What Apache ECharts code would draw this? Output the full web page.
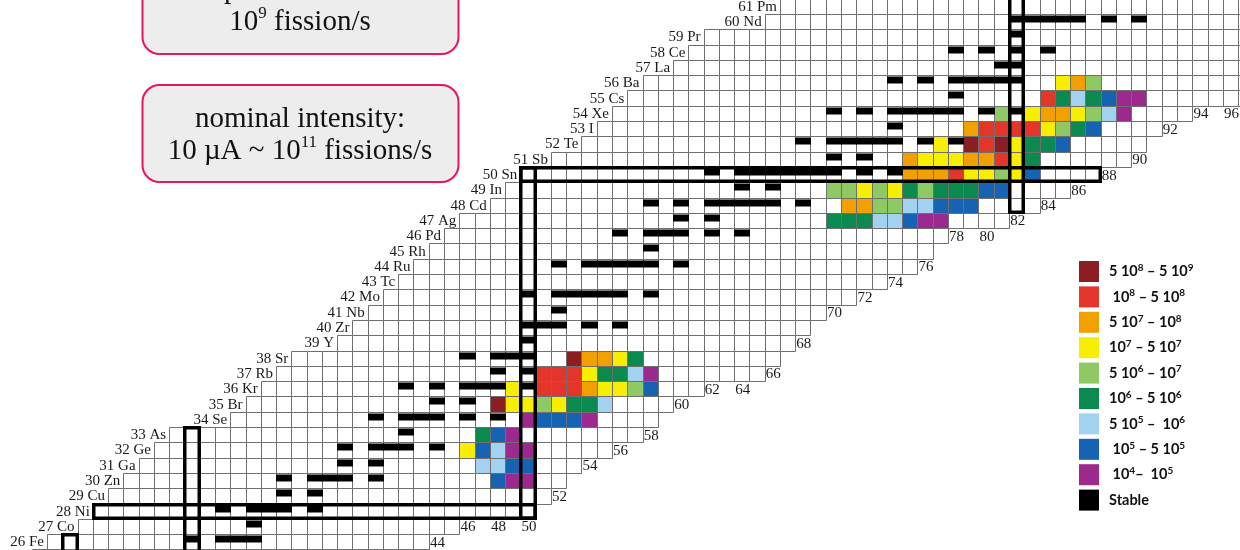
<!DOCTYPE html>
<html>
<head>
<meta charset="utf-8">
<title>Fission fragment rates on the chart of nuclides</title>
<script src="https://cdn.jsdelivr.net/npm/echarts@6/dist/echarts.min.js"></script>
<style>
  html, body { margin: 0; padding: 0; background: #ffffff; }
  #chart { width: 1240px; height: 550px; }
</style>
</head>
<body>
<div id="chart"></div>
<script>
// ---------------------------------------------------------------------------
// Chart of nuclides, Z = 24 ... 62: one row per element, one cell per neutron number
// ---------------------------------------------------------------------------
const Z_VALUES = [24, 25, 26, 27, 28, 29, 30, 31, 32, 33, 34, 35, 36, 37, 38, 39, 40, 41, 42,
                  43, 44, 45, 46, 47, 48, 49, 50, 51, 52, 53, 54, 55, 56, 57, 58, 59, 60, 61, 62];
const ELEMENT_SYMBOLS = ['Cr', 'Mn', 'Fe', 'Co', 'Ni', 'Cu', 'Zn', 'Ga', 'Ge', 'As', 'Se', 'Br', 'Kr',
                         'Rb', 'Sr', 'Y', 'Zr', 'Nb', 'Mo', 'Tc', 'Ru', 'Rh', 'Pd', 'Ag', 'Cd', 'In',
                         'Sn', 'Sb', 'Te', 'I', 'Xe', 'Cs', 'Ba', 'La', 'Ce', 'Pr', 'Nd', 'Pm', 'Sm'];
// lightest and heaviest neutron number drawn in each row
const N_FIRST = [17, 18, 19, 21, 22, 23, 24, 25, 26, 27, 31, 32, 33, 34, 35, 38, 39, 40, 41,
                 42, 43, 44, 45, 46, 48, 49, 50, 52, 54, 55, 56, 57, 58, 60, 61, 62, 66, 67, 68];
const N_LAST  = [41, 42, 43, 45, 50, 51, 52, 53, 55, 57, 58, 59, 61, 65, 66, 67, 68, 69, 71,
                 73, 75, 76, 77, 81, 83, 85, 87, 89, 90, 91, 93, 98, 98, 98, 98, 98, 98, 98, 98];
// stable isotopes, given by neutron number, row by row
const STABLE_N = [
  [26, 28, 29, 30],                       // Cr
  [30],                                   // Mn
  [28, 30, 31, 32],                       // Fe
  [32],                                   // Co
  [30, 32, 33, 34, 36],                   // Ni
  [34, 36],                               // Cu
  [34, 36, 37, 38, 40],                   // Zn
  [38, 40],                               // Ga
  [38, 40, 41, 42, 44],                   // Ge
  [42],                                   // As
  [40, 42, 43, 44, 46, 48],               // Se
  [44, 46],                               // Br
  [42, 44, 46, 47, 48, 50],               // Kr
  [48, 50],                               // Rb
  [46, 48, 49, 50],                       // Sr
  [50],                                   // Y
  [50, 51, 52, 54, 56],                   // Zr
  [52],                                   // Nb
  [50, 52, 53, 54, 55, 56, 58],           // Mo
  [],                                     // Tc
  [52, 54, 55, 56, 57, 58, 60],           // Ru
  [58],                                   // Rh
  [56, 58, 59, 60, 62, 64],               // Pd
  [60, 62],                               // Ag
  [58, 60, 62, 63, 64, 65, 66, 68],       // Cd
  [64, 66],                               // In
  [62, 64, 65, 66, 67, 68, 69, 70, 72, 74],// Sn
  [70, 72],                               // Sb
  [68, 70, 71, 72, 73, 74, 76, 78],       // Te
  [74],                                   // I
  [70, 72, 74, 75, 76, 77, 78, 80, 82],   // Xe
  [78],                                   // Cs
  [74, 76, 78, 79, 80, 81, 82],           // Ba
  [81, 82],                               // La
  [78, 80, 82, 84],                       // Ce
  [82],                                   // Pr
  [82, 83, 84, 85, 86, 88, 90],           // Nd
  [],                                     // Pm
  [82, 85, 86, 87, 88, 90, 92]            // Sm
];

// Fission-fragment rate class per cell: [Z, first N, classes...]
// class 1 = 5e8-5e9 ... 9 = 1e4-1e5 (see LEGEND_LABELS), 0 = no rate shown
const YIELD_ROWS = [
  [30, 48, [8, 9, 9]],
  [31, 47, [7, 7, 8, 8]],
  [32, 46, [4, 8, 7, 9, 9]],
  [33, 47, [6, 8, 9]],
  [34, 50, [9, 8, 8, 8, 9]],
  [35, 48, [1, 4, 4, 5, 4, 6, 6, 7]],
  [36, 49, [4, 0, 2, 2, 2, 3, 4, 4, 5, 8]],
  [37, 51, [2, 2, 2, 4, 6, 6, 7, 9]],
  [38, 53, [1, 3, 3, 4, 6]],
  [47, 70, [6, 6, 6, 7, 7, 8, 9, 9]],
  [48, 71, [3, 3, 5, 5, 7, 7, 8, 8, 8]],
  [49, 70, [5, 5, 4, 5, 4, 6, 5, 6, 6, 6, 8, 8]],
  [50, 75, [3, 3, 3, 2, 4, 4, 5, 4, 8]],
  [51, 75, [3, 4, 4, 4, 3, 3, 2, 4, 6]],
  [52, 77, [4, 0, 1, 2, 1, 4, 6, 6, 8]],
  [53, 79, [3, 2, 2, 2, 2, 4, 5, 6, 8]],
  [54, 81, [5, 0, 4, 3, 3, 4, 5, 7, 9]],
  [55, 84, [2, 6, 7, 6, 8, 9, 9]],
  [56, 85, [4, 3, 5]]
];
const LEGEND_LABELS = ['5 10^8 \u2013 5 10^9', ' 10^8 \u2013 5 10^8', '5 10^7 \u2013 10^8',
                       '10^7 \u2013 5 10^7', '5 10^6 \u2013 10^7', '10^6 \u2013 5 10^6',
                       '5 10^5 \u2013  10^6', ' 10^5 \u2013 5 10^5', ' 10^4\u2013  10^5'];
const STABLE_LABEL = 'Stable';

// neutron numbers written under the bottom of their column
const N_TICKS = [44, 46, 48, 50, 52, 54, 56, 58, 60, 62, 64, 66, 68, 70, 72, 74, 76, 78, 80,
                 82, 84, 86, 88, 90, 92, 94, 96];
// closed shells outlined with a heavy frame
const MAGIC_N = [20, 28, 50, 82];
const MAGIC_Z = [28, 50];

// ---------------------------------------------------------------------------
// Styling and scale set-up
// ---------------------------------------------------------------------------
const CLASS_COLORS = ['#8c1d23', '#e3352a', '#f1a000', '#f8ee00', '#8fc963',
                      '#0b8a50', '#a3d2f1', '#1763b3', '#9c2a8e'];
const GRID_LINE = '#6f6f6f';
const SERIF = '"Liberation Serif", "Times New Roman", serif';

const W = 1240, H = 550;
const CELL_W = 15.27, CELL_H = 15.3;   // pixel size of one nuclide cell
const N50_X = 528, Z28_Y = 511.2;      // where the N = 50 column and Z = 28 row are centred

const rowIndex = z => Z_VALUES.indexOf(z);

// base grid cells
const cellData = [];
Z_VALUES.forEach((z, i) => {
  for (let n = N_FIRST[i]; n <= N_LAST[i]; n++) cellData.push([n, z]);
});

// stable cells
const stableData = [];
Z_VALUES.forEach((z, i) => STABLE_N[i].forEach(n => stableData.push([n, z])));

// rate-class cells, one list per class
const classData = CLASS_COLORS.map(() => []);
YIELD_ROWS.forEach(([z, n0, classes]) => {
  classes.forEach((c, k) => { if (c > 0) classData[c - 1].push([n0 + k, z]); });
});

// magic-number frames: [nFrom, nTo, zFrom, zTo]
const magicData = [];
MAGIC_Z.forEach(z => {
  const i = rowIndex(z);
  magicData.push([N_FIRST[i], N_LAST[i], z, z]);
});
MAGIC_N.forEach(n => {
  const rows = Z_VALUES.filter((z, i) => N_FIRST[i] <= n && n <= N_LAST[i]);
  magicData.push([n, n, Math.min(...rows), Math.max(...rows)]);
});

// element names at the left end of every row
const elementData = Z_VALUES.map((z, i) => [N_FIRST[i], z, i]);

// neutron-number labels just below the last cell of each column
const tickData = N_TICKS.map(n => {
  const zBottom = Z_VALUES.find((z, i) => N_LAST[i] >= n && N_FIRST[i] <= n);
  return [n, zBottom - 1];
});

function cellCorners(api, n, z) {
  const a = api.coord([n - 0.5, z + 0.5]);
  const b = api.coord([n + 0.5, z - 0.5]);
  return [Math.round(a[0]), Math.round(a[1]), Math.round(b[0]), Math.round(b[1])];
}

function cellRenderer(fill) {
  return function (params, api) {
    const [x0, y0, x1, y1] = cellCorners(api, api.value(0), api.value(1));
    return {
      type: 'rect',
      shape: { x: x0 + 0.5, y: y0 + 0.5, width: x1 - x0, height: y1 - y0 },
      style: { fill: fill, stroke: GRID_LINE, lineWidth: 1 }
    };
  };
}

function richText(label) {
  return '{g| }' + label.replace(/\^(\d+)/g, '{s|$1}');
}

const series = [];

series.push({
  name: 'cells', type: 'custom', coordinateSystem: 'cartesian2d',
  data: cellData, renderItem: cellRenderer('#ffffff'),
  silent: true, z: 1, progressive: 0, animation: false
});

CLASS_COLORS.forEach((color, k) => {
  series.push({
    name: LEGEND_LABELS[k], type: 'custom', coordinateSystem: 'cartesian2d',
    data: classData[k], renderItem: cellRenderer(color),
    itemStyle: { color: color },
    silent: true, z: 2, progressive: 0, animation: false
  });
});

series.push({
  name: STABLE_LABEL, type: 'custom', coordinateSystem: 'cartesian2d',
  data: stableData,
  itemStyle: { color: '#000000' },
  renderItem: function (params, api) {
    const [x0, y0, x1] = cellCorners(api, api.value(0), api.value(1));
    return {
      type: 'rect',
      shape: { x: x0, y: y0 + 1.5, width: x1 - x0 + 1, height: 7 },
      style: { fill: '#000000' }
    };
  },
  silent: true, z: 3, progressive: 0, animation: false
});

series.push({
  name: 'shells', type: 'custom', coordinateSystem: 'cartesian2d',
  data: magicData,
  renderItem: function (params, api) {
    const a = api.coord([api.value(0) - 0.5, api.value(3) + 0.5]);
    const b = api.coord([api.value(1) + 0.5, api.value(2) - 0.5]);
    const x0 = Math.round(a[0]), y0 = Math.round(a[1]);
    const x1 = Math.round(b[0]), y1 = Math.round(b[1]);
    return {
      type: 'rect',
      shape: { x: x0 + 0.75, y: y0 + 0.75, width: x1 - x0 - 1.5, height: y1 - y0 - 1.5 },
      style: { fill: 'none', stroke: '#000000', lineWidth: 3.5 }
    };
  },
  silent: true, z: 4, progressive: 0, animation: false
});

series.push({
  name: 'elements', type: 'custom', coordinateSystem: 'cartesian2d',
  data: elementData,
  renderItem: function (params, api) {
    const p = api.coord([api.value(0) - 0.5, api.value(1)]);
    const i = api.value(2);
    return {
      type: 'text', x: p[0] - 3, y: p[1] + 0.5,
      style: {
        text: Z_VALUES[i] + ' ' + ELEMENT_SYMBOLS[i],
        font: '15px ' + SERIF, fill: '#1a1a1a',
        align: 'right', verticalAlign: 'middle',
        textAlign: 'right', textVerticalAlign: 'middle'
      }
    };
  },
  silent: true, z: 5, progressive: 0, animation: false
});

series.push({
  name: 'neutron numbers', type: 'custom', coordinateSystem: 'cartesian2d',
  data: tickData,
  renderItem: function (params, api) {
    const p = api.coord([api.value(0), api.value(1)]);
    return {
      type: 'text', x: p[0] + 1, y: p[1] + 1,
      style: {
        text: String(api.value(0)),
        font: '15px ' + SERIF, fill: '#1a1a1a',
        align: 'center', verticalAlign: 'middle',
        textAlign: 'center', textVerticalAlign: 'middle'
      }
    };
  },
  silent: true, z: 5, progressive: 0, animation: false
});

const boxRich = {
  s: { fontFamily: SERIF, fontSize: 17, lineHeight: 18, verticalAlign: 'top', fill: '#111111', color: '#111111' }
};
function boxText(text, y) {
  return {
    type: 'text', x: 300, y: y, z: 11, silent: true,
    style: {
      text: text, fontFamily: SERIF, fontSize: 29, lineHeight: 34,
      fill: '#111111', align: 'center', verticalAlign: 'middle',
      textAlign: 'center', textVerticalAlign: 'middle', rich: boxRich
    }
  };
}
function noteBox(y, h) {
  return {
    type: 'rect', z: 10, silent: true,
    shape: { x: 142.5, y: y, width: 316, height: h, r: 17 },
    style: { fill: '#ededed', stroke: '#e8175d', lineWidth: 2 }
  };
}

const option = {
  backgroundColor: '#ffffff',
  animation: false,
  grid: { left: 0, right: 0, top: 0, bottom: 0, containLabel: false },
  xAxis: {
    type: 'value', show: false,
    min: 50 - N50_X / CELL_W, max: 50 + (W - N50_X) / CELL_W
  },
  yAxis: {
    type: 'value', show: false,
    min: 28 - (H - Z28_Y) / CELL_H, max: 28 + Z28_Y / CELL_H
  },
  legend: {
    orient: 'vertical', left: 1079, top: 261, padding: 0,
    itemWidth: 20, itemHeight: 21, itemGap: 4.4,
    icon: 'rect', selectedMode: false,
    data: LEGEND_LABELS.concat([STABLE_LABEL]),
    formatter: name => richText(name),
    textStyle: {
      fontFamily: 'Lato, "Open Sans", sans-serif', fontWeight: 'bold', fontSize: 14.5,
      color: '#111111', lineHeight: 18,
      rich: {
        g: { width: 5 },
        s: { fontFamily: 'Lato, "Open Sans", sans-serif', fontWeight: 'bold', fontSize: 10,
             lineHeight: 11, verticalAlign: 'top', color: '#111111' }
      }
    }
  },
  graphic: [
    noteBox(-40, 94),
    boxText('present state:', -10),
    boxText('10{s|9} fission/s', 22),
    noteBox(85, 97),
    boxText('nominal intensity:', 119.5),
    boxText('10 \u00b5A ~ 10{s|11} fissions/s', 151.5)
  ],
  series: series
};

const chart = echarts.init(document.getElementById('chart'), null, { renderer: 'canvas' });
chart.setOption(option);
</script>
</body>
</html>
